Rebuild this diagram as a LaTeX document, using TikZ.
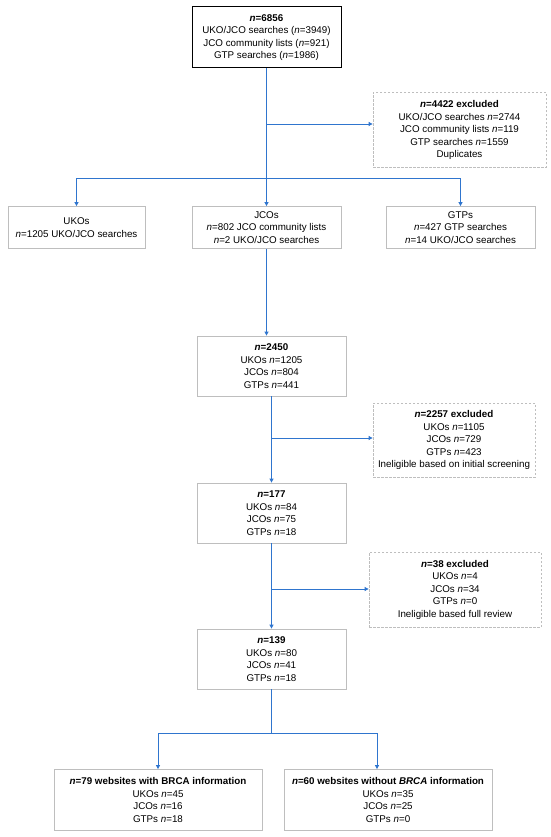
\documentclass[tikz,border=0pt]{standalone}
\usepackage{fontspec}
\setmainfont{Liberation Sans}
\usetikzlibrary{arrows.meta}
\definecolor{flowblue}{RGB}{47,117,206}
\definecolor{boxgray}{RGB}{190,190,190}
\newcommand{\nn}{\textit{n}}
\begin{document}
\begin{tikzpicture}[x=1pt,y=-1pt]
\tikzstyle{box}=[draw=boxgray,line width=0.8pt,align=center,inner sep=0pt,font=\fontsize{9.8}{12.5}\selectfont];
\tikzstyle{excl}=[box,dashed,dash pattern=on 2.5pt off 1.5pt];
\tikzstyle{arr}=[flowblue,line width=0.8pt,-{Triangle[length=4pt,width=4pt]}];
\useasboundingbox (0,0) rectangle (550,837);

\node [box,draw=black,line width=1pt,minimum width=149pt,minimum height=61pt] (top) at (266.5,37.5)
  {\textbf{\nn=6856}\\UKO/JCO searches (\nn=3949)\\JCO community lists (\nn=921)\\GTP searches (\nn=1986)};
\node [excl,minimum width=173pt,minimum height=75pt] (ex1) at (459.5,130)
  {\textbf{\nn=4422 excluded}\\UKO/JCO searches \nn=2744\\JCO community lists \nn=119\\GTP searches \nn=1559\\Duplicates};

\node [box,minimum width=137pt,minimum height=42pt] (ukos) at (76.5,227.5) {UKOs\\\nn=1205 UKO/JCO searches};
\node [box,minimum width=149pt,minimum height=42pt] (jcos) at (266.5,227.5) {JCOs\\\nn=802 JCO community lists\\\nn=2 UKO/JCO searches};
\node [box,minimum width=149pt,minimum height=42pt] (gtps) at (460.5,227.5) {GTPs\\\nn=427 GTP searches\\\nn=14 UKO/JCO searches};

\node [box,minimum width=149pt,minimum height=60pt] (b2450) at (271.5,366) {\textbf{\nn=2450}\\UKOs \nn=1205\\JCOs \nn=804\\GTPs \nn=441};
\node [excl,minimum width=162pt,minimum height=74pt] (ex2) at (454,440)
  {\textbf{\nn=2257 excluded}\\UKOs \nn=1105\\JCOs \nn=729\\GTPs \nn=423\\Ineligible based on initial screening};

\node [box,minimum width=149pt,minimum height=60pt] (b177) at (271.5,513) {\textbf{\nn=177}\\UKOs \nn=84\\JCOs \nn=75\\GTPs \nn=18};
\node [excl,minimum width=172pt,minimum height=75pt] (ex3) at (455,589.5)
  {\textbf{\nn=38 excluded}\\UKOs \nn=4\\JCOs \nn=34\\GTPs \nn=0\\Ineligible based full review};

\node [box,minimum width=149pt,minimum height=60pt] (b139) at (271.5,659) {\textbf{\nn=139}\\UKOs \nn=80\\JCOs \nn=41\\GTPs \nn=18};

\node [box,minimum width=208pt,minimum height=61pt] (bL) at (158,800)
  {\textbf{\nn=79 websites with BRCA information}\\UKOs \nn=45\\JCOs \nn=16\\GTPs \nn=18};
\node [box,minimum width=208pt,minimum height=61pt] (bR) at (388,800)
  {\textbf{\nn=60 websites without \textit{BRCA} information}\\UKOs \nn=35\\JCOs \nn=25\\GTPs \nn=0};

\coordinate (j1) at (266.5,124);
\coordinate (j2) at (266.5,178);
\coordinate (j3) at (271.5,438);
\coordinate (j4) at (271.5,589);
\coordinate (j5) at (271.5,733);

\draw [arr] (top.south) -- (jcos.north);
\draw [arr] (j1) -- (j1 -| ex1.west);
\draw [arr] (j2) -| (ukos.north);
\draw [arr] (j2) -| (gtps.north);
\draw [arr] (jcos.south) -- (jcos.south |- b2450.north);
\draw [arr] (b2450.south) -- (b177.north);
\draw [arr] (j3) -- (j3 -| ex2.west);
\draw [arr] (b177.south) -- (b139.north);
\draw [arr] (j4) -- (j4 -| ex3.west);
\draw [flowblue,line width=0.8pt] (b139.south) -- (j5);
\draw [arr] (j5) -| (bL.north);
\draw [arr] (j5) -| ([xshift=-11pt]bR.north);
\end{tikzpicture}
\end{document}
